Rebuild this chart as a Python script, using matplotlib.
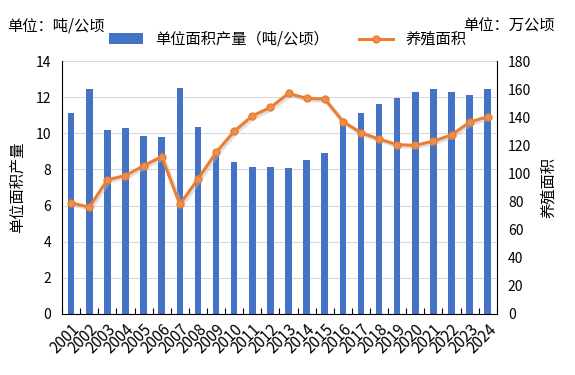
import matplotlib
matplotlib.use("Agg")
import matplotlib.pyplot as plt
import numpy as np

plt.rcParams['font.family'] = ['Noto Sans CJK SC', 'DejaVu Sans']

years = [str(y) for y in range(2001, 2025)]
# 单位面积产量 (吨/公顷)
yield_t = [11.1, 12.45, 10.2, 10.3, 9.85, 9.8, 12.5, 10.35, 8.95, 8.4, 8.15, 8.15,
           8.1, 8.55, 8.9, 10.6, 11.15, 11.6, 11.95, 12.3, 12.45, 12.3, 12.1, 12.45]
# 养殖面积 (万公顷)
area = [79, 76, 95.5, 98.5, 105.5, 112, 78, 96, 115, 130, 141, 147,
        157, 153.5, 153, 137, 129, 124.5, 120.5, 120, 123, 127.5, 136.5, 140.5]

bar_color = '#4472C4'
line_color = '#ED7D31'

fig = plt.figure(figsize=(5.75, 3.75), dpi=100)
ax = fig.add_axes([0.108, 0.163, 0.756, 0.674])
x = np.arange(len(years))

ax.bar(x, yield_t, width=0.36, color=bar_color, zorder=2, label='单位面积产量（吨/公顷）')
ax.set_ylim(0, 14)
ax.set_yticks(range(0, 15, 2))
ax.set_xlim(-0.5, len(years) - 0.5)
ax.grid(axis='y', color='#D9D9D9', linewidth=0.8, zorder=0)
ax.set_axisbelow(True)

# ticks on category boundaries, labels at centres
ax.set_xticks(np.arange(-0.5, len(years), 1.0))
ax.set_xticklabels([])
ax.set_xticks(x, minor=True)
ax.set_xticklabels(years, minor=True, rotation=45, ha='right', rotation_mode='anchor', fontsize=11)
ax.tick_params(axis='x', which='major', length=4, direction='in', color='black')
ax.tick_params(axis='x', which='minor', length=0, pad=5)
ax.tick_params(axis='y', length=0, labelsize=10, pad=8)
ax.spines['top'].set_visible(False)
ax.spines['right'].set_visible(False)
ax.spines['left'].set_color('black')
ax.spines['bottom'].set_color('black')
ax.set_ylabel('单位面积产量', fontsize=11, labelpad=6)

ax2 = ax.twinx()
# soft shadow under the line
ax2.plot(x, area, color='#BBBBBB', linewidth=3, alpha=0.45, zorder=3,
         transform=ax2.transData + matplotlib.transforms.ScaledTranslation(1.2/72, -1.2/72, fig.dpi_scale_trans))
ax2.plot(x, area, color=line_color, linewidth=2.2, marker='o', markersize=5,
         markerfacecolor='#E8904F', markeredgecolor=line_color, zorder=4, label='养殖面积')
ax2.set_ylim(0, 180)
ax2.set_yticks(range(0, 181, 20))
ax2.tick_params(axis='y', length=0, labelsize=10, pad=8)
for s in ['top', 'left', 'bottom']:
    ax2.spines[s].set_visible(False)
ax2.spines['right'].set_color('black')
ax2.set_ylabel('养殖面积', fontsize=11, rotation=90)
ax2.yaxis.set_label_coords(1.1, 0.5)

fig.text(0.012, 0.93, '单位：吨/公顷', fontsize=11, va='center')
fig.text(0.805, 0.93, '单位：万公顷', fontsize=11, va='center')

h1, l1 = ax.get_legend_handles_labels()
h2, l2 = ax2.get_legend_handles_labels()
fig.legend(h1 + h2, l1 + l2, loc='center', bbox_to_anchor=(0.5, 0.895), ncol=2,
           frameon=False, fontsize=11, handlelength=2.2, columnspacing=2.0)

fig.savefig('out.png', dpi=100)
